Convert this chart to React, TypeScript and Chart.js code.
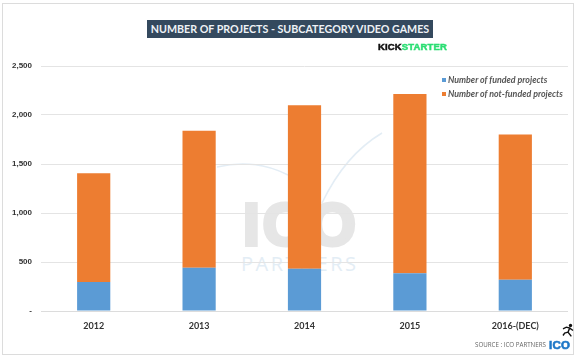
import React, { useEffect, useRef } from "react";
import { Chart, registerables } from "chart.js";

Chart.register(...registerables);

const years = ["2012", "2013", "2014", "2015", "2016-(DEC)"];
const funded = [296, 442, 430, 385, 318];
const notFunded = [1109, 1398, 1670, 1830, 1482];
const yTicks = [0, 500, 1000, 1500, 2000, 2500];
const BLUE = "#5b9bd5";
const ORANGE = "#ed7d31";

const abs = (s: React.CSSProperties): React.CSSProperties => ({ position: "absolute", whiteSpace: "nowrap", ...s });

export default function App() {
  const ref = useRef<HTMLCanvasElement>(null);
  useEffect(() => {
    const chart = new Chart(ref.current!, {
      type: "bar",
      data: {
        labels: years,
        datasets: [
          { label: "Number of funded projects", data: funded, backgroundColor: BLUE, stack: "s", categoryPercentage: 1, barPercentage: 0.315 },
          { label: "Number of not-funded projects", data: notFunded, backgroundColor: ORANGE, stack: "s", categoryPercentage: 1, barPercentage: 0.315 },
        ],
      },
      options: {
        animation: false,
        responsive: false,
        layout: { padding: { top: 66 } },
        plugins: { legend: { display: false }, title: { display: false }, tooltip: { enabled: false } },
        scales: {
          x: {
            stacked: true,
            position: "bottom",
            grid: { display: false },
            border: { color: "#dcdcdc" },
            ticks: { color: "#333333", font: { family: "Lato", size: 9, weight: "bold" }, padding: 2, maxRotation: 0 },
            afterFit: (a: any) => { a.height = 47; },
          },
          y: {
            stacked: true,
            min: 0,
            max: 2500,
            afterBuildTicks: (a: any) => { a.ticks = yTicks.map((v) => ({ value: v })); },
            grid: { color: "#e4e4e4", drawTicks: false },
            border: { display: false },
            ticks: {
              color: "#333333",
              padding: 9,
              font: { family: "Liberation Sans", size: 8, weight: "bold" },
              callback: (v: any) => (v === 0 ? "-" : Number(v).toLocaleString("en-US")),
            },
            afterFit: (a: any) => { a.width = 41; },
          },
        },
      },
    });
    return () => chart.destroy();
  }, []);

  const legend = (color: string, text: string, top: number) => (
    <div style={abs({ left: 442, top, fontFamily: "Lato", fontSize: 8.85, fontStyle: "italic", fontWeight: 700, color: "#555", lineHeight: "12px" })}>
      <span style={{ display: "inline-block", width: 4, height: 4, background: color, marginRight: 2, verticalAlign: "1px" }} />
      {text}
    </div>
  );

  return (
    <div style={{ position: "fixed", left: 0, top: 0, width: 581, height: 358, background: "#fff", overflow: "hidden" }}>
      <div style={abs({ left: 2, top: 3, width: 572, height: 352, border: "1px solid #dcdcdc", boxSizing: "border-box" })} />
      {/* watermark */}
      <svg width={581} height={358} style={{ position: "absolute", left: 0, top: 0 }}>
        <path d="M217 167 Q255 158 288 175" fill="none" stroke="#e3edf5" strokeWidth={1.5} />
        <path d="M322 203 Q345 155 382 133" fill="none" stroke="#e3edf5" strokeWidth={1.5} />
      </svg>
      <div style={abs({ left: 243, top: 190, fontFamily: "Liberation Sans", fontWeight: 700, fontSize: 60, lineHeight: "70px", letterSpacing: 3, color: "#e6e6e6", WebkitTextStroke: "4px #e6e6e6" })}>ICO</div>
      <div style={abs({ left: 241, top: 252, fontFamily: "Open Sans", fontSize: 20, lineHeight: "24px", letterSpacing: 2.5, color: "#e3edf5" })}>PARTNERS</div>
      <canvas ref={ref} width={568} height={358} style={{ position: "absolute", left: 0, top: 0, display: "block", width: 568, height: 358 }} />
      {/* title */}
      <div style={abs({ left: 147, top: 20, width: 286, height: 18, lineHeight: "18px", background: "#34495e", color: "#eef2f6", textAlign: "center", fontFamily: "Lato", fontSize: 10.7, fontWeight: 700 })}>
        NUMBER OF PROJECTS - SUBCATEGORY VIDEO GAMES
      </div>
      <div style={abs({ left: 378, top: 41, fontFamily: "Liberation Sans", fontSize: 9.5, fontWeight: 700, lineHeight: "12px", letterSpacing: 0.15, color: "#111", WebkitTextStroke: "0.5px currentColor" })}>
        KICK<span style={{ color: "#2bde73" }}>STARTER</span>
      </div>
      {legend(BLUE, "Number of funded projects", 74)}
      {legend(ORANGE, "Number of not-funded projects", 88)}
      {/* footer */}
      <div style={abs({ left: 475, top: 341, fontFamily: "Open Sans", fontSize: 6.2, lineHeight: "8px", color: "#666" })}>SOURCE : ICO PARTNERS</div>
      <div style={abs({ left: 549, top: 338, fontFamily: "Liberation Sans", fontSize: 11.5, fontWeight: 700, lineHeight: "14px", letterSpacing: 0.3, color: "#1f78c8", WebkitTextStroke: "0.6px currentColor" })}>ICO</div>
      <svg width={16} height={15} viewBox="0 0 16 18" style={{ position: "absolute", left: 560, top: 323 }}>
        <circle cx={11} cy={3} r={2} fill="#111" />
        <path d="M2 7 L6 5 L10 6 L8 11 L12 16 M8 11 L4 12 L2 15 M10 6 L14 9" fill="none" stroke="#111" strokeWidth={1.7} />
      </svg>
    </div>
  );
}
